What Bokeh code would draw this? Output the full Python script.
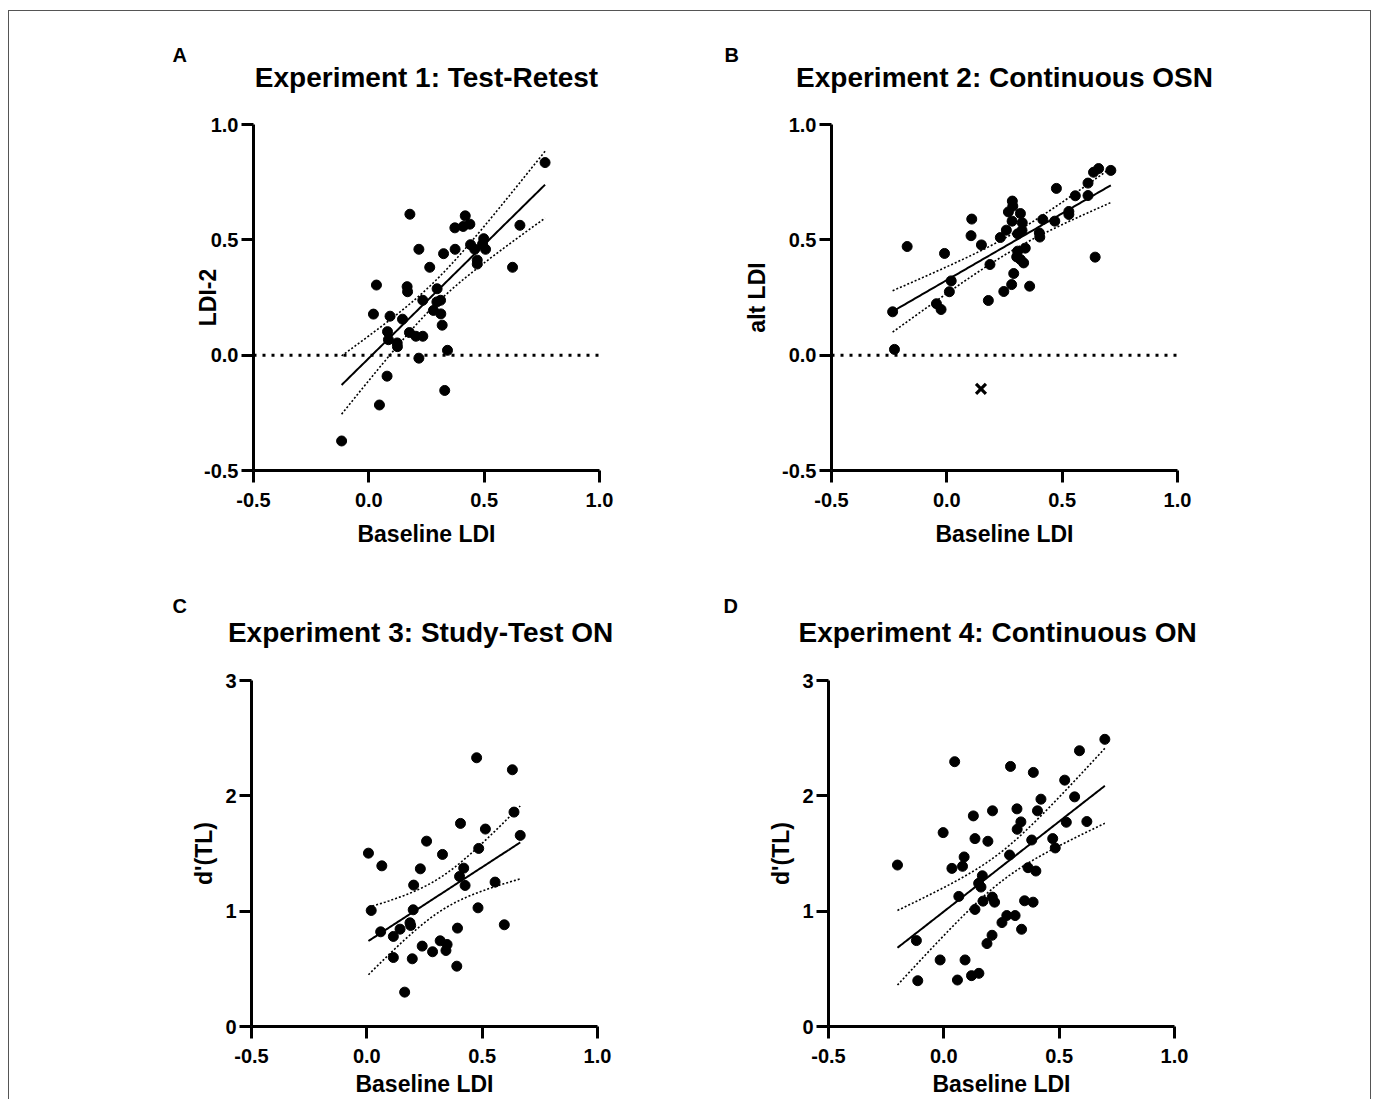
import numpy as np
from bokeh.plotting import figure
from bokeh.models import Range1d, FixedTicker, NumeralTickFormatter, Span, Title
from bokeh.layouts import column, row
from bokeh.embed import file_html
from bokeh.resources import INLINE

# ---------------- data ----------------
# Experiment 1: Test-Retest
a_x = [0.764, 0.178, 0.418, 0.373, 0.409, 0.438, 0.655, 0.217, 0.324, 0.374, 0.441, 0.498,
       0.459, 0.506, 0.493, 0.470, 0.470, 0.623, 0.264, 0.033, 0.166, 0.168, 0.296, 0.234,
       0.295, 0.311, 0.280, 0.312, 0.318, 0.020, 0.092, 0.146, 0.081, 0.085, 0.176, 0.204,
       0.234, 0.123, 0.124, 0.341, 0.217, 0.079, 0.329, 0.046, -0.118]
a_y = [0.835, 0.611, 0.604, 0.552, 0.558, 0.568, 0.563, 0.459, 0.440, 0.459, 0.479, 0.505,
       0.459, 0.459, 0.482, 0.412, 0.395, 0.381, 0.381, 0.304, 0.297, 0.275, 0.288, 0.238,
       0.231, 0.238, 0.194, 0.179, 0.130, 0.178, 0.169, 0.156, 0.102, 0.067, 0.098, 0.082,
       0.082, 0.053, 0.037, 0.021, -0.013, -0.091, -0.153, -0.216, -0.372]

# Experiment 2: Continuous OSN
b_x = [-0.235, -0.227, -0.172, -0.045, -0.025, 0.011, 0.019, -0.010, 0.108, 0.105, 0.150,
       0.187, 0.180, 0.232, 0.258, 0.247, 0.281, 0.290, 0.284, 0.286, 0.267, 0.319, 0.283,
       0.327, 0.326, 0.307, 0.307, 0.303, 0.340, 0.333, 0.319, 0.359, 0.416, 0.401, 0.403,
       0.475, 0.468, 0.529, 0.529, 0.557, 0.612, 0.612, 0.636, 0.658, 0.711, 0.643]
b_y = [0.188, 0.025, 0.471, 0.223, 0.198, 0.275, 0.322, 0.441, 0.590, 0.518, 0.478,
       0.393, 0.237, 0.510, 0.542, 0.276, 0.306, 0.354, 0.668, 0.646, 0.621, 0.614, 0.581,
       0.574, 0.541, 0.526, 0.451, 0.426, 0.464, 0.400, 0.415, 0.299, 0.588, 0.530, 0.512,
       0.723, 0.581, 0.623, 0.610, 0.691, 0.746, 0.692, 0.793, 0.809, 0.801, 0.425]
b_out_x = [0.148]
b_out_y = [-0.146]

# Experiment 3: Study-Test ON
c_x = [0.476, 0.631, 0.638, 0.665, 0.406, 0.514, 0.259, 0.328, 0.007, 0.065, 0.232, 0.485,
       0.420, 0.402, 0.426, 0.556, 0.203, 0.019, 0.201, 0.482, 0.596, 0.187, 0.190, 0.144,
       0.060, 0.115, 0.393, 0.240, 0.285, 0.318, 0.348, 0.343, 0.115, 0.197, 0.390, 0.164]
c_y = [2.330, 2.226, 1.859, 1.657, 1.761, 1.712, 1.607, 1.492, 1.503, 1.393, 1.367, 1.544,
       1.373, 1.301, 1.223, 1.252, 1.226, 1.006, 1.012, 1.029, 0.882, 0.899, 0.876, 0.844,
       0.821, 0.781, 0.853, 0.697, 0.648, 0.743, 0.711, 0.659, 0.598, 0.587, 0.523, 0.298]

# Experiment 4: Continuous ON
d_x = [0.698, 0.588, 0.047, 0.289, 0.388, 0.524, 0.567, 0.421, 0.128, 0.211, 0.317, 0.406,
       0.334, 0.318, 0.531, 0.620, -0.003, 0.135, 0.191, 0.381, 0.472, 0.483, 0.088, -0.201,
       0.035, 0.081, 0.285, 0.365, 0.399, 0.167, 0.151, 0.161, 0.065, 0.210, 0.220, 0.170,
       0.135, 0.350, 0.387, 0.273, 0.309, 0.252, 0.337, 0.209, 0.187, -0.119, -0.016, 0.092,
       -0.113, 0.059, 0.120, 0.152]
d_y = [2.490, 2.391, 2.296, 2.255, 2.203, 2.136, 1.991, 1.971, 1.826, 1.870, 1.887, 1.870,
       1.774, 1.710, 1.771, 1.777, 1.681, 1.629, 1.606, 1.617, 1.629, 1.548, 1.470, 1.400,
       1.371, 1.389, 1.487, 1.377, 1.348, 1.307, 1.241, 1.209, 1.128, 1.122, 1.078, 1.087,
       1.015, 1.090, 1.078, 0.962, 0.962, 0.901, 0.843, 0.791, 0.719, 0.745, 0.577, 0.577,
       0.397, 0.403, 0.441, 0.461]

x_ticks = [-0.5, 0.0, 0.5, 1.0]
ldi_ticks = [-0.5, 0.0, 0.5, 1.0]
dprime_ticks = [0, 1, 2, 3]

FONT = "Liberation Sans"


def t975(df):
    z = 1.959964
    return z + (z**3 + z) / (4 * df) + (5 * z**5 + 16 * z**3 + 3 * z) / (96 * df**2)


def fit_band(xv, yv):
    x = np.asarray(xv, float)
    y = np.asarray(yv, float)
    n = len(x)
    slope, inter = np.polyfit(x, y, 1)
    resid = y - (slope * x + inter)
    s = np.sqrt(np.sum(resid**2) / (n - 2))
    sxx = np.sum((x - x.mean())**2)
    xs = np.linspace(x.min(), x.max(), 120)
    fit = slope * xs + inter
    half = t975(n - 2) * s * np.sqrt(1.0 / n + (xs - x.mean())**2 / sxx)
    return xs, fit, fit - half, fit + half


def panel(xv, yv, title, letter, letter_offset, ylabel, yrange, yticks, yfmt,
          bl, br, bt, bb, ylab_standoff, xlab_standoff, title_standoff, letter_standoff,
          zero_line=False, out=None):
    p = figure(frame_width=346, frame_height=346,
               x_range=Range1d(-0.5, 1.0), y_range=Range1d(*yrange),
               output_backend="svg", toolbar_location=None,
               min_border_left=bl, min_border_right=br,
               min_border_top=bt, min_border_bottom=bb,
               background_fill_color="white", border_fill_color="white")
    p.outline_line_color = None
    p.xgrid.visible = False
    p.ygrid.visible = False

    p.add_layout(Title(text=title, align="center", text_font=FONT,
                       text_font_size="28px", text_font_style="bold",
                       text_color="black", standoff=title_standoff), "above")
    p.add_layout(Title(text=letter, align="left", offset=letter_offset,
                       text_font=FONT, text_font_size="20px",
                       text_font_style="bold", text_color="black",
                       standoff=letter_standoff), "above")

    p.xaxis.ticker = FixedTicker(ticks=x_ticks)
    p.xaxis.formatter = NumeralTickFormatter(format="0.0")
    p.yaxis.ticker = FixedTicker(ticks=yticks)
    p.yaxis.formatter = NumeralTickFormatter(format=yfmt)
    p.xaxis.axis_label = "Baseline LDI"
    p.yaxis.axis_label = ylabel
    for ax in (p.xaxis[0], p.yaxis[0]):
        ax.axis_line_width = 3
        ax.axis_line_color = "black"
        ax.major_tick_line_width = 3
        ax.major_tick_line_color = "black"
        ax.major_tick_out = 12
        ax.major_tick_in = 0
        ax.minor_tick_line_color = None
        ax.major_label_text_font = FONT
        ax.major_label_text_font_size = "20px"
        ax.major_label_text_font_style = "bold"
        ax.major_label_text_color = "black"
        ax.axis_label_text_font = FONT
        ax.axis_label_text_font_size = "23px"
        ax.axis_label_text_font_style = "bold"
        ax.axis_label_text_color = "black"
    p.xaxis.major_label_standoff = 10
    p.xaxis.axis_label_standoff = xlab_standoff
    p.yaxis.major_label_standoff = 3
    p.yaxis.axis_label_standoff = ylab_standoff

    if zero_line:
        p.add_layout(Span(location=0, dimension="width", line_color="black",
                          line_width=3, line_dash="3 6"))

    xs, fit, lo, hi = fit_band(xv, yv)
    p.line(xs, lo, line_color="black", line_width=1.6, line_dash="2 2")
    p.line(xs, hi, line_color="black", line_width=1.6, line_dash="2 2")
    p.line(xs, fit, line_color="black", line_width=2)
    p.scatter(xv, yv, size=10, color="black", marker="circle")
    if out is not None:
        p.scatter(out[0], out[1], marker="x", size=14, line_width=3.2, color="black")
    return p


pA = panel(a_x, a_y, "Experiment 1: Test-Retest", "A", -81, "LDI-2",
           (-0.5, 1.0), ldi_ticks, "0.0", 244, 40, 113, 90, -20, 11, 64, -76,
           zero_line=True)
pB = panel(b_x, b_y, "Experiment 2: Continuous OSN", "B", -107, "alt LDI",
           (-0.5, 1.0), ldi_ticks, "0.0", 192, 193, 113, 90, 9, 11, 64, -76,
           zero_line=True, out=(b_out_x, b_out_y))
pC = panel(c_x, c_y, "Experiment 3: Study-Test  ON", "C", -79, "d'(TL)",
           (0, 3), dprime_ticks, "0", 242, 40, 120, 72, 5, 5, 66, -70)
pD = panel(d_x, d_y, "Experiment 4: Continuous  ON", "D", -105, "d'(TL)",
           (0, 3), dprime_ticks, "0", 191, 193, 120, 72, 5, 5, 66, -70)

layout = column(row(pA, pB), row(pC, pD),
                styles={"border-left": "1px solid #555",
                        "border-top": "1px solid #555",
                        "border-right": "1px solid #555",
                        "margin-left": "8px", "margin-top": "10px"})
open("out.html", "w").write(file_html(layout, INLINE))
